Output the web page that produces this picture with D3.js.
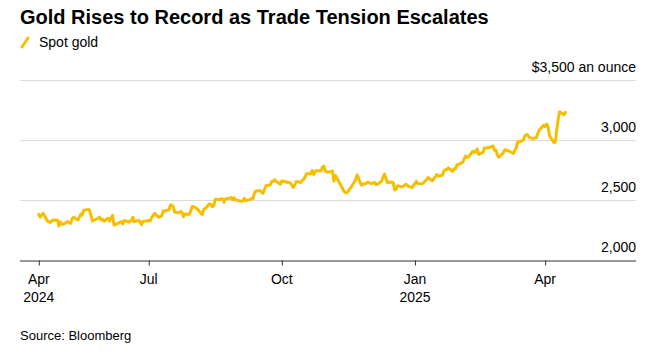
<!DOCTYPE html>
<html>
<head>
<meta charset="utf-8">
<script src="https://cdn.jsdelivr.net/npm/d3@7"></script>
<style>
  html, body { margin: 0; padding: 0; background: #fff; }
  svg { display: block; font-family: "Liberation Sans", Arial, Helvetica, sans-serif; }
</style>
</head>
<body>
<svg id="chart" width="659" height="357"></svg>
<script>
const title = "Gold Rises to Record as Trade Tension Escalates";
const seriesName = "Spot gold";
const unitLabel = "$3,500 an ounce";
const sourceText = "Source: Bloomberg";

const yTicks = [2000, 2500, 3000, 3500];
const xTickDates = ["2024-04-16", "2024-07-01", "2024-10-01", "2025-01-01", "2025-04-01"];
const xTickLabels = [["Apr", "2024"], ["Jul", ""], ["Oct", ""], ["Jan", "2025"], ["Apr", ""]];

const dates = [
"2024-04-16","2024-04-17","2024-04-18","2024-04-19","2024-04-22","2024-04-23","2024-04-24","2024-04-25","2024-04-26","2024-04-29","2024-04-30",
"2024-05-01","2024-05-02","2024-05-03","2024-05-06","2024-05-07","2024-05-08","2024-05-09","2024-05-10","2024-05-13","2024-05-14","2024-05-15","2024-05-16","2024-05-17","2024-05-20","2024-05-21","2024-05-22","2024-05-23","2024-05-24","2024-05-27","2024-05-28","2024-05-29","2024-05-30","2024-05-31",
"2024-06-03","2024-06-04","2024-06-05","2024-06-06","2024-06-07","2024-06-10","2024-06-11","2024-06-12","2024-06-13","2024-06-14","2024-06-17","2024-06-18","2024-06-19","2024-06-20","2024-06-21","2024-06-24","2024-06-25","2024-06-26","2024-06-27","2024-06-28",
"2024-07-01","2024-07-02","2024-07-03","2024-07-05","2024-07-08","2024-07-09","2024-07-10","2024-07-11","2024-07-12","2024-07-15","2024-07-16","2024-07-17","2024-07-18","2024-07-19","2024-07-22","2024-07-23","2024-07-24","2024-07-25","2024-07-26","2024-07-29","2024-07-30","2024-07-31",
"2024-08-01","2024-08-02","2024-08-05","2024-08-06","2024-08-07","2024-08-08","2024-08-09","2024-08-12","2024-08-13","2024-08-14","2024-08-15","2024-08-16","2024-08-19","2024-08-20","2024-08-21","2024-08-22","2024-08-23","2024-08-26","2024-08-27","2024-08-28","2024-08-29","2024-08-30",
"2024-09-03","2024-09-04","2024-09-05","2024-09-06","2024-09-09","2024-09-10","2024-09-11","2024-09-12","2024-09-13","2024-09-16","2024-09-17","2024-09-18","2024-09-19","2024-09-20","2024-09-23","2024-09-24","2024-09-25","2024-09-26","2024-09-27","2024-09-30",
"2024-10-01","2024-10-02","2024-10-03","2024-10-04","2024-10-07","2024-10-08","2024-10-09","2024-10-10","2024-10-11","2024-10-14","2024-10-15","2024-10-16","2024-10-17","2024-10-18","2024-10-21","2024-10-22","2024-10-23","2024-10-24","2024-10-25","2024-10-28","2024-10-29","2024-10-30","2024-10-31",
"2024-11-01","2024-11-04","2024-11-05","2024-11-06","2024-11-07","2024-11-08","2024-11-11","2024-11-12","2024-11-13","2024-11-14","2024-11-15","2024-11-18","2024-11-19","2024-11-20","2024-11-21","2024-11-22","2024-11-25","2024-11-26","2024-11-27","2024-11-28","2024-11-29",
"2024-12-02","2024-12-03","2024-12-04","2024-12-05","2024-12-06","2024-12-09","2024-12-10","2024-12-11","2024-12-12","2024-12-13","2024-12-16","2024-12-17","2024-12-18","2024-12-19","2024-12-20","2024-12-23","2024-12-24","2024-12-26","2024-12-27","2024-12-30","2024-12-31",
"2025-01-02","2025-01-03","2025-01-06","2025-01-07","2025-01-08","2025-01-09","2025-01-10","2025-01-13","2025-01-14","2025-01-15","2025-01-16","2025-01-17","2025-01-20","2025-01-21","2025-01-22","2025-01-23","2025-01-24","2025-01-27","2025-01-28","2025-01-29","2025-01-30","2025-01-31",
"2025-02-03","2025-02-04","2025-02-05","2025-02-06","2025-02-07","2025-02-10","2025-02-11","2025-02-12","2025-02-13","2025-02-14","2025-02-17","2025-02-18","2025-02-19","2025-02-20","2025-02-21","2025-02-24","2025-02-25","2025-02-26","2025-02-27","2025-02-28",
"2025-03-03","2025-03-04","2025-03-05","2025-03-06","2025-03-07","2025-03-10","2025-03-11","2025-03-12","2025-03-13","2025-03-14","2025-03-17","2025-03-18","2025-03-19","2025-03-20","2025-03-21","2025-03-24","2025-03-25","2025-03-26","2025-03-27","2025-03-28","2025-03-31",
"2025-04-01","2025-04-02","2025-04-03","2025-04-04","2025-04-07","2025-04-08","2025-04-09","2025-04-10","2025-04-11","2025-04-14","2025-04-15"
];

const values = [
2383,2361,2379,2392,2327,2322,2316,2332,2337,2335,2286,
2320,2303,2301,2324,2314,2309,2346,2360,2336,2358,2385,2377,2415,2425,2421,2379,2329,2334,2351,2361,2338,2343,2327,
2350,2327,2355,2375,2294,2311,2316,2324,2303,2333,2319,2329,2328,2360,2322,2334,2319,2298,2327,2326,
2332,2330,2356,2392,2359,2364,2371,2414,2411,2422,2462,2459,2445,2401,2396,2409,2398,2364,2387,2384,2410,2448,
2446,2443,2410,2390,2382,2427,2431,2472,2465,2447,2456,2508,2504,2514,2512,2484,2512,2518,2524,2504,2521,2503,
2493,2495,2516,2497,2506,2516,2512,2558,2578,2582,2569,2559,2587,2622,2628,2657,2657,2672,2658,2634,
2662,2659,2656,2653,2644,2622,2607,2630,2657,2649,2663,2674,2693,2721,2720,2748,2715,2736,2747,2743,2774,2785,2744,
2736,2736,2743,2659,2707,2685,2619,2598,2573,2565,2563,2611,2631,2650,2670,2712,2626,2633,2638,2639,2650,
2640,2643,2650,2631,2633,2660,2694,2718,2680,2648,2652,2646,2586,2594,2622,2612,2617,2634,2621,2606,2625,
2658,2640,2636,2648,2661,2670,2690,2663,2677,2696,2715,2703,2708,2743,2755,2755,2770,2740,2763,2760,2794,2798,
2815,2842,2867,2856,2861,2908,2898,2904,2928,2882,2898,2936,2933,2939,2936,2952,2915,2916,2876,2858,
2893,2918,2920,2911,2910,2889,2916,2934,2987,2984,3001,3035,3047,3044,3023,3011,3020,3019,3057,3085,3124,
3113,3134,3114,3037,2982,2982,3083,3175,3237,3210,3232
];

const color = "#f5bf00";
const svg = d3.select("#chart");
const parse = d3.utcParse("%Y-%m-%d");
const data = dates.map((d, i) => ({ date: parse(d), value: values[i] }));

const mLeft = 20, mRight = 636, mTop = 80, mBottom = 260.5;
const x = d3.scaleUtc()
  .domain([parse("2024-04-03"), d3.utcHour.offset(parse("2025-06-02"), 19)])
  .range([mLeft, mRight]);
const y = d3.scaleLinear().domain([2000, 3500]).range([mBottom, mTop]);

// Title
svg.append("text").attr("x", 20).attr("y", 24)
  .attr("font-size", 20).attr("font-weight", "bold").attr("fill", "#000")
  .text(title);

// Legend
svg.append("line").attr("x1", 22).attr("y1", 47).attr("x2", 28).attr("y2", 38)
  .attr("stroke", color).attr("stroke-width", 3).attr("stroke-linecap", "round");
svg.append("text").attr("x", 39).attr("y", 47).attr("font-size", 14).attr("fill", "#000").text(seriesName);

// Gridlines
const grid = svg.append("g");
yTicks.filter(t => t > 2000).forEach(t => {
  grid.append("line").attr("x1", mLeft).attr("x2", mRight)
    .attr("y1", Math.round(y(t)) + 0.5).attr("y2", Math.round(y(t)) + 0.5)
    .attr("stroke", "#dcdcdc").attr("stroke-width", 1);
});

// Y labels
yTicks.forEach(t => {
  svg.append("text").attr("x", mRight).attr("y", y(t) - 8.5)
    .attr("text-anchor", "end").attr("font-size", 14).attr("fill", "#000")
    .text(t === 3500 ? unitLabel : d3.format(",")(t));
});

// X axis
const xAxis = d3.axisBottom(x)
  .tickValues(xTickDates.map(parse))
  .tickSize(5).tickPadding(0).tickFormat("");
const gx = svg.append("g").attr("transform", `translate(0,${mBottom})`).call(xAxis);
gx.select(".domain").attr("stroke", "#333").attr("d", `M${mLeft},0.5H${mRight}`);
gx.selectAll(".tick line").attr("stroke", "#333");
xTickDates.forEach((d, i) => {
  const t = svg.append("text").attr("x", x(parse(d))).attr("text-anchor", "middle")
    .attr("font-size", 14).attr("fill", "#000");
  t.append("tspan").attr("x", x(parse(d))).attr("y", 284).text(xTickLabels[i][0]);
  if (xTickLabels[i][1]) t.append("tspan").attr("x", x(parse(d))).attr("y", 302).text(xTickLabels[i][1]);
});

// Line
const line = d3.line().x(d => x(d.date)).y(d => y(d.value)).curve(d3.curveLinear);
svg.append("path").datum(data).attr("d", line)
  .attr("fill", "none").attr("stroke", color).attr("stroke-width", 3)
  .attr("stroke-linejoin", "round").attr("stroke-linecap", "round");

// Source
svg.append("text").attr("x", 20).attr("y", 340).attr("font-size", 13).attr("fill", "#000").text(sourceText);
</script>
</body>
</html>
